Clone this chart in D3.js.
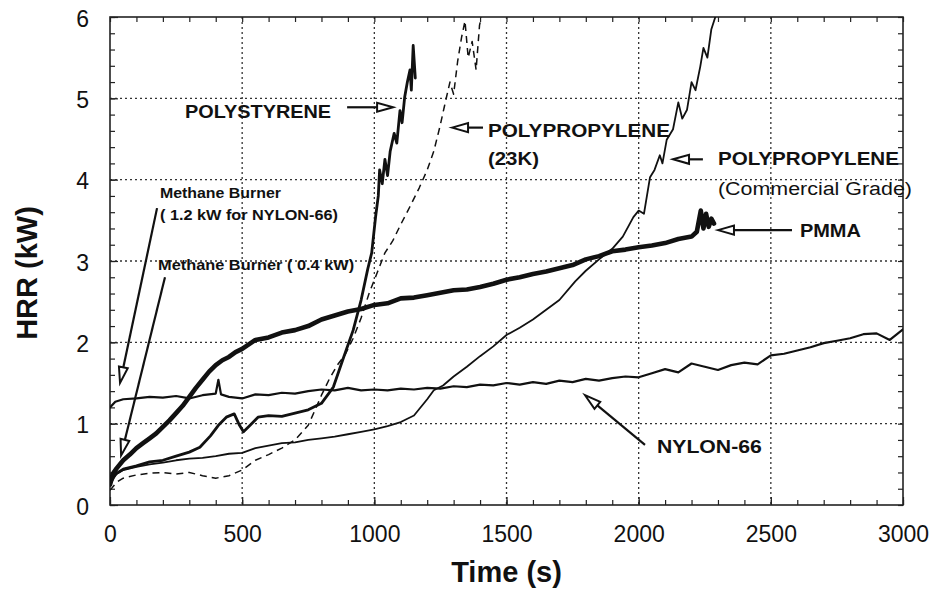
<!DOCTYPE html>
<html>
<head>
<meta charset="utf-8">
<script src="https://cdn.jsdelivr.net/npm/d3@7"></script>
<style>
  html, body { margin: 0; padding: 0; background: #fff; }
  svg { display: block; }
  text { font-family: "Liberation Sans", Arial, Helvetica, sans-serif; fill: #111; }
</style>
</head>
<body>
<svg id="chart" width="941" height="591"></svg>
<script>
// ---------------- DATA (time s, HRR kW) ----------------
const xTicks = [0, 500, 1000, 1500, 2000, 2500, 3000];
const yTicks = [0, 1, 2, 3, 4, 5, 6];

const nylon66 = [[0,1.20],[20,1.27],[50,1.30],[100,1.31],[150,1.33],[200,1.32],[250,1.34],[300,1.31],[350,1.35],[400,1.37],[410,1.54],[420,1.36],[450,1.33],[500,1.31],[550,1.36],[600,1.35],[650,1.38],[700,1.37],[750,1.40],[800,1.42],[850,1.41],[900,1.44],[950,1.41],[1000,1.42],[1050,1.41],[1100,1.43],[1150,1.42],[1200,1.44],[1250,1.43],[1300,1.46],[1350,1.45],[1400,1.48],[1450,1.47],[1500,1.50],[1550,1.48],[1600,1.51],[1650,1.49],[1700,1.53],[1750,1.51],[1800,1.55],[1850,1.53],[1900,1.56],[1950,1.58],[2000,1.57],[2050,1.62],[2100,1.67],[2150,1.63],[2200,1.74],[2250,1.70],[2300,1.66],[2350,1.72],[2400,1.75],[2450,1.73],[2500,1.84],[2550,1.86],[2600,1.90],[2650,1.94],[2700,1.99],[2750,2.02],[2800,2.05],[2850,2.10],[2900,2.11],[2950,2.03],[3000,2.16]];

const pmma = [[0,0.25],[10,0.38],[25,0.45],[50,0.55],[75,0.62],[100,0.70],[125,0.76],[150,0.82],[175,0.88],[200,0.96],[225,1.04],[250,1.13],[275,1.22],[300,1.33],[325,1.44],[350,1.54],[375,1.64],[400,1.72],[425,1.78],[450,1.82],[475,1.88],[500,1.92],[550,2.03],[600,2.06],[650,2.12],[700,2.15],[750,2.20],[800,2.28],[850,2.33],[900,2.38],[950,2.41],[1000,2.46],[1050,2.48],[1100,2.54],[1150,2.55],[1200,2.58],[1250,2.61],[1300,2.64],[1350,2.65],[1400,2.68],[1450,2.72],[1500,2.77],[1550,2.80],[1600,2.84],[1650,2.87],[1700,2.91],[1750,2.95],[1800,3.02],[1850,3.06],[1900,3.12],[1950,3.14],[2000,3.17],[2050,3.19],[2100,3.22],[2150,3.27],[2200,3.30],[2220,3.36],[2235,3.62],[2245,3.40],[2255,3.58],[2265,3.42],[2275,3.52],[2285,3.46]];

const polystyrene = [[0,0.25],[20,0.38],[50,0.44],[100,0.48],[150,0.53],[200,0.55],[250,0.60],[300,0.65],[340,0.71],[380,0.85],[410,0.98],[440,1.08],[470,1.12],[490,0.98],[505,0.90],[530,0.98],[560,1.08],[600,1.10],[650,1.09],[700,1.13],[750,1.17],[800,1.25],[845,1.45],[880,1.78],[920,2.15],[950,2.52],[975,2.90],[990,3.10],[1005,3.55],[1015,3.80],[1020,4.12],[1030,3.95],[1040,4.25],[1050,4.05],[1060,4.35],[1075,4.57],[1085,4.45],[1097,4.85],[1105,4.70],[1115,5.02],[1125,5.20],[1135,5.35],[1140,5.10],[1147,5.65],[1152,5.40],[1155,5.25]];

const pp23k = [[0,0.18],[25,0.28],[50,0.33],[100,0.37],[150,0.39],[200,0.40],[250,0.38],[300,0.40],[350,0.36],[400,0.33],[450,0.36],[500,0.43],[550,0.55],[600,0.62],[650,0.70],[700,0.80],[750,0.98],[780,1.20],[800,1.35],[830,1.55],[860,1.72],[890,1.85],[920,2.05],[950,2.30],[980,2.60],[1010,2.85],[1040,3.10],[1070,3.25],[1100,3.45],[1135,3.67],[1170,3.90],[1200,4.12],[1225,4.35],[1248,4.65],[1265,4.90],[1286,5.20],[1300,5.05],[1315,5.45],[1330,5.75],[1343,5.95],[1355,5.50],[1370,5.70],[1385,5.35],[1398,5.90],[1405,6.00]];

const ppCommercial = [[0,0.28],[25,0.38],[50,0.43],[100,0.47],[150,0.50],[200,0.52],[250,0.55],[300,0.57],[350,0.58],[400,0.60],[450,0.63],[500,0.64],[550,0.70],[600,0.73],[650,0.76],[700,0.77],[750,0.80],[800,0.82],[850,0.84],[900,0.87],[950,0.90],[1000,0.93],[1050,0.97],[1100,1.02],[1150,1.10],[1200,1.30],[1225,1.41],[1260,1.47],[1300,1.58],[1350,1.70],[1400,1.83],[1450,1.95],[1500,2.09],[1550,2.18],[1600,2.28],[1650,2.40],[1700,2.52],[1760,2.75],[1800,2.88],[1850,3.02],[1900,3.15],[1940,3.30],[1980,3.54],[2000,3.62],[2020,3.58],[2043,4.03],[2060,4.12],[2080,4.30],[2090,4.20],[2106,4.49],[2130,4.62],[2150,4.95],[2165,4.75],[2183,4.86],[2200,5.20],[2215,5.10],[2233,5.39],[2245,5.62],[2260,5.50],[2275,5.85],[2290,6.00]];

// annotation texts and anchor points (data units)
const labels = [
  {text: "POLYSTYRENE", t: 284, v: 4.76, size: 19, weight: "bold", len: 146},
  {text: "POLYPROPYLENE", t: 1430, v: 4.52, size: 19, weight: "bold", len: 182},
  {text: "(23K)", t: 1430, v: 4.18, size: 19, weight: "bold", len: 51},
  {text: "POLYPROPYLENE", t: 2300, v: 4.18, size: 19, weight: "bold", len: 181},
  {text: "(Commercial Grade)", t: 2300, v: 3.81, size: 18, weight: "normal", len: 194},
  {text: "PMMA", t: 2610, v: 3.30, size: 19, weight: "bold", len: 61},
  {text: "NYLON-66", t: 2069, v: 0.64, size: 19, weight: "bold", len: 105},
  {text: "Methane Burner", t: 189, v: 3.77, size: 14, weight: "bold", len: 121},
  {text: "( 1.2 kW for NYLON-66)", t: 189, v: 3.50, size: 14, weight: "bold", len: 178},
  {text: "Methane Burner ( 0.4 kW)", t: 182, v: 2.89, size: 14, weight: "bold", len: 196}
];
const arrows = [
  {from: [897, 4.89], to: [1071, 4.89]},
  {from: [1411, 4.64], to: [1294, 4.64]},
  {from: [2243, 4.25], to: [2130, 4.25]},
  {from: [2580, 3.38], to: [2300, 3.38]},
  {from: [2024, 0.74], to: [1797, 1.35]},
  {from: [178, 3.65], to: [38, 1.50]},
  {from: [208, 2.80], to: [42, 0.61]}
];

// ---------------- CHART ----------------
const svg = d3.select("#chart");
const L = 110, R = 903, T = 17, B = 505;
const x = d3.scaleLinear().domain([0, 3000]).range([L, R]);
const y = d3.scaleLinear().domain([0, 6]).range([B, T]);

svg.append("rect").attr("width", 941).attr("height", 591).attr("fill", "#fff");

svg.append("defs").append("clipPath").attr("id", "clip")
  .append("rect").attr("x", L).attr("y", T).attr("width", R - L).attr("height", B - T);

// grid
const grid = svg.append("g").attr("stroke", "#333").attr("stroke-width", 1.3)
  .attr("stroke-dasharray", "2,3");
grid.selectAll("line.gx").data(xTicks.slice(1, -1)).join("line")
  .attr("x1", d => x(d)).attr("x2", d => x(d)).attr("y1", T).attr("y2", B);
grid.selectAll("line.gy").data(yTicks.slice(1, -1)).join("line")
  .attr("y1", d => y(d)).attr("y2", d => y(d)).attr("x1", L).attr("x2", R);

// axes
const minorX = d3.range(0, 3001, 100);
const minorY = d3.range(0, 6.001, 0.2);
function styleAxis(g) {
  g.select(".domain").remove();
  g.selectAll(".tick line").attr("stroke", "#222").attr("stroke-width", 1.2);
}
svg.append("g").attr("transform", `translate(0,${B})`)
  .call(d3.axisBottom(x).tickValues(minorX).tickSizeInner(-5).tickSizeOuter(0).tickFormat(""))
  .call(styleAxis);
svg.append("g").attr("transform", `translate(0,${T})`)
  .call(d3.axisTop(x).tickValues(minorX).tickSizeInner(-5).tickSizeOuter(0).tickFormat(""))
  .call(styleAxis);
svg.append("g").attr("transform", `translate(${L},0)`)
  .call(d3.axisLeft(y).tickValues(minorY).tickSizeInner(-5).tickSizeOuter(0).tickFormat(""))
  .call(styleAxis);
svg.append("g").attr("transform", `translate(${R},0)`)
  .call(d3.axisRight(y).tickValues(minorY).tickSizeInner(-5).tickSizeOuter(0).tickFormat(""))
  .call(styleAxis);

const xAxis = svg.append("g").attr("transform", `translate(0,${B})`)
  .call(d3.axisBottom(x).tickValues(xTicks).tickSizeInner(-8).tickSizeOuter(0).tickPadding(21).tickFormat(d3.format("d")))
  .call(styleAxis);
xAxis.selectAll("text").attr("font-size", 23).attr("font-family", "Liberation Sans, Arial, sans-serif").attr("fill", "#111");

const yAxis = svg.append("g").attr("transform", `translate(${L},0)`)
  .call(d3.axisLeft(y).tickValues(yTicks).tickSizeInner(-8).tickSizeOuter(0).tickPadding(21).tickFormat(d3.format("d")))
  .call(styleAxis);
yAxis.selectAll("text").attr("font-size", 23).attr("font-family", "Liberation Sans, Arial, sans-serif").attr("fill", "#111").attr("dy", "0.4em");

// frame
svg.append("rect").attr("x", L).attr("y", T).attr("width", R - L).attr("height", B - T)
  .attr("fill", "none").attr("stroke", "#222").attr("stroke-width", 1.6);

// lines
const line = d3.line().x(d => x(d[0])).y(d => y(d[1]));
const plot = svg.append("g").attr("clip-path", "url(#clip)").attr("fill", "none")
  .attr("stroke", "#111").attr("stroke-linejoin", "round").attr("stroke-linecap", "round");
plot.append("path").datum(ppCommercial).attr("d", line).attr("stroke-width", 1.8);
plot.append("path").datum(pp23k).attr("d", line).attr("stroke-width", 1.5).attr("stroke-dasharray", "7,5").attr("stroke-linecap", "butt");
plot.append("path").datum(nylon66).attr("d", line).attr("stroke-width", 2.2);
plot.append("path").datum(polystyrene).attr("d", line).attr("stroke-width", 2.8);
plot.append("path").datum(pmma).attr("d", line).attr("stroke-width", 4.6);

// arrows
const ag = svg.append("g");
arrows.forEach(a => {
  const x1 = x(a.from[0]), y1 = y(a.from[1]), x2 = x(a.to[0]), y2 = y(a.to[1]);
  const dx = x2 - x1, dy = y2 - y1, len = Math.hypot(dx, dy);
  const ux = dx / len, uy = dy / len, hl = 16, hw = 4.5;
  const bx = x2 - ux * hl, by = y2 - uy * hl;
  ag.append("line").attr("x1", x1).attr("y1", y1).attr("x2", bx).attr("y2", by)
    .attr("stroke", "#111").attr("stroke-width", 2.2);
  const pts = [[x2, y2], [bx - uy * hw, by + ux * hw], [bx + uy * hw, by - ux * hw]];
  ag.append("polygon").attr("points", pts.map(p => p.join(",")).join(" "))
    .attr("fill", "#fff").attr("stroke", "#111").attr("stroke-width", 2);
});

// labels
svg.append("g").selectAll("text").data(labels).join("text")
  .attr("x", d => x(d.t)).attr("y", d => y(d.v))
  .attr("font-size", d => d.size).attr("font-weight", d => d.weight)
  .attr("textLength", d => d.len).attr("lengthAdjust", "spacingAndGlyphs")
  .text(d => d.text);

// axis titles
svg.append("text").attr("x", (L + R) / 2).attr("y", 582).attr("text-anchor", "middle")
  .attr("font-size", 29).attr("font-weight", "bold").text("Time (s)");
svg.append("text").attr("transform", "translate(37,273) rotate(-90)").attr("text-anchor", "middle")
  .attr("font-size", 29).attr("font-weight", "bold").text("HRR (kW)");
</script>
</body>
</html>
